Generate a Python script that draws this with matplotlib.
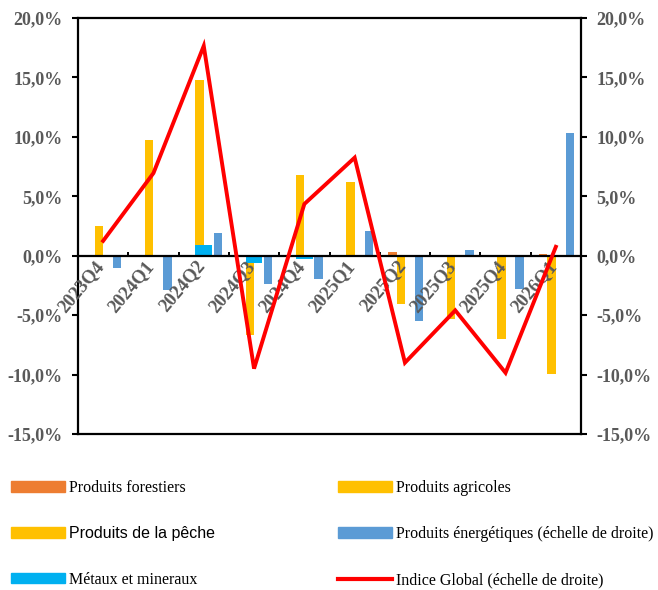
import matplotlib.pyplot as plt
import numpy as np
from matplotlib.patches import Patch
from matplotlib.lines import Line2D
from matplotlib.ticker import FuncFormatter

plt.rcParams['font.family'] = ['Liberation Serif', 'DejaVu Serif']

categories = ['2023Q4', '2024Q1', '2024Q2', '2024Q3', '2024Q4',
              '2025Q1', '2025Q2', '2025Q3', '2025Q4', '2026Q1']
forestiers = [-0.15, 0.05, 0.0, 0.1, 0.0, 0.0, 0.28, 0.0, 0.0, 0.12]
agricoles = [2.5, 9.7, 14.75, -6.7, 6.75, 6.2, -4.1, -5.3, -7.0, -9.95]
peche = [0.0, 0.0, 0.0, 0.0, 0.0, 0.0, 0.0, 0.0, 0.0, 0.0]
metaux = [0.0, -0.1, 0.93, -0.6, -0.28, 0.0, 0.0, 0.0, 0.0, 0.0]
energie = [-1.0, -2.85, 1.95, -2.35, -1.95, 2.1, -5.5, 0.5, -2.8, 10.3]
indice = [1.25, 6.95, 17.65, -9.5, 4.35, 8.25, -9.0, -4.6, -9.85, 0.75]

c_forest = '#ED7D31'
c_agri = '#FFC000'
c_energie = '#5B9BD5'
c_metaux = '#00B0F0'
c_indice = '#FF0000'
grey = '#595959'

fig = plt.figure(figsize=(6.58, 5.9), dpi=100)
ax = fig.add_axes([78 / 658, 1 - 434 / 590, 503 / 658, 416 / 590])

x = np.arange(len(categories))
w = 1 / 6
ax.bar(x - 1.5 * w, forestiers, w, color=c_forest, zorder=2)
ax.bar(x - 0.5 * w, agricoles, w, color=c_agri, zorder=2)
ax.bar(x + 0.5 * w, peche, w, color=c_agri, zorder=2)
ax.bar(x, metaux, 2 * w, color=c_metaux, zorder=3)
ax.bar(x + 0.28, energie, w, color=c_energie, zorder=2)
ax.plot(x, indice, color=c_indice, lw=2.8, zorder=6, solid_joinstyle='miter')

# category axis at zero with small ticks between the quarters
ax.axhline(0, color='black', lw=1.6, zorder=4)
ax.vlines(np.arange(0.5, len(categories) - 1, 1), 0, 0.35, color='black', lw=1.4, zorder=4)

ax.set_xlim(-0.5, len(categories) - 0.5)
ax.set_ylim(-15, 20)
ax.set_xticks([])
ax.set_yticks(np.arange(-15, 21, 5))
ax.yaxis.set_major_formatter(FuncFormatter(lambda v, p: f'{v:.1f}%'.replace('.', ',')))
ax.tick_params(axis='y', direction='out', length=4, width=1.5, left=True, right=True,
               labelleft=True, labelright=True, labelsize=13, labelcolor=grey, pad=7)
for t in ax.yaxis.get_major_ticks():
    t.label1.set_fontweight('bold')
    t.label2.set_fontweight('bold')
for s in ax.spines.values():
    s.set_linewidth(1.6)
    s.set_color('black')

for i, lab in enumerate(categories):
    ax.text(i + 0.08, -0.15, lab, rotation=50, ha='right', va='top',
            fontsize=13.5, fontweight='bold', color=grey, zorder=5)

legend_kw = dict(loc='upper left', frameon=False, borderpad=0, borderaxespad=0,
                 handlelength=3.35, handleheight=0.65, handletextpad=0.3, labelspacing=1.9,
                 prop={'family': 'Liberation Serif', 'size': 11.5})
leg1 = fig.legend(handles=[Patch(color=c_forest), Patch(color=c_agri), Patch(color=c_metaux)],
                  labels=['Produits forestiers', 'Produits de la pêche', 'Métaux et mineraux'],
                  bbox_to_anchor=(11 / 658, 1 - 480 / 590), **legend_kw)
leg1.get_texts()[1].set_fontfamily('Liberation Sans')
leg2 = fig.legend(handles=[Patch(color=c_agri), Patch(color=c_energie),
                           Line2D([], [], color=c_indice, lw=3)],
                  labels=['Produits agricoles', 'Produits énergétiques (échelle de droite)',
                          'Indice Global (échelle de droite)'],
                  bbox_to_anchor=(338 / 658, 1 - 480 / 590), **legend_kw)

fig.savefig('out.png', dpi=100)
